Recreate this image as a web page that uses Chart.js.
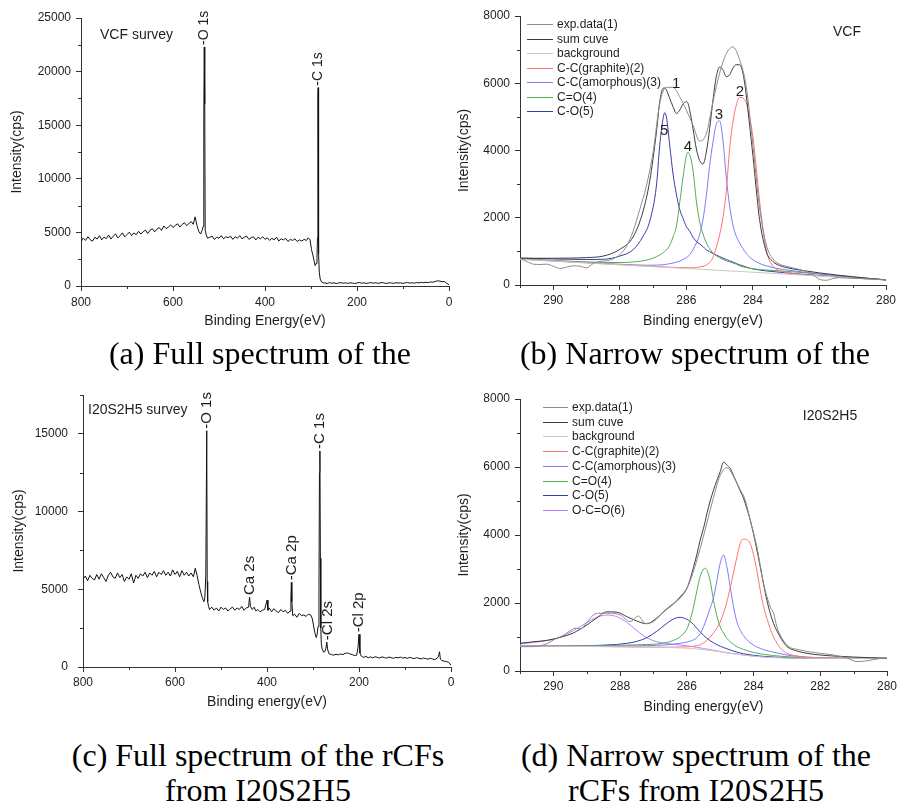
<!DOCTYPE html>
<html>
<head>
<meta charset="utf-8">
<script src="https://cdn.jsdelivr.net/npm/chart.js@4.4.1/dist/chart.umd.min.js"></script>
<style>
  body { margin: 0; background: #fff; width: 898px; height: 809px; position: relative; overflow: hidden; }
  canvas.panel { position: absolute; }
  .cap { position: absolute; width: 400px; text-align: center; white-space: nowrap;
         font-family: 'Liberation Serif', 'Times New Roman', serif; font-size: 32px; line-height: 35px; color: #000; }
</style>
</head>
<body>
<canvas id="chartA" class="panel" width="460" height="340" style="left:0;top:0"></canvas>
<canvas id="chartB" class="panel" width="458" height="340" style="left:440px;top:0"></canvas>
<canvas id="chartC" class="panel" width="460" height="340" style="left:0;top:380px"></canvas>
<canvas id="chartD" class="panel" width="458" height="340" style="left:440px;top:380px"></canvas>
<div class="cap" style="left:60px;top:336px">(a) Full spectrum of the</div>
<div class="cap" style="left:495px;top:336px">(b) Narrow spectrum of the</div>
<div class="cap" style="left:58px;top:738px">(c) Full spectrum of the rCFs<br>from I20S2H5</div>
<div class="cap" style="left:496px;top:738px">(d) Narrow spectrum of the<br>rCFs from I20S2H5</div>
<script>
/* ======== Tick values ======== */
const surveyTicksX = [0, 200, 400, 600, 800];
const surveyTicksYA = [0, 5000, 10000, 15000, 20000, 25000];
const surveyTicksYC = [0, 5000, 10000, 15000];
const narrowTicksX = [280, 282, 284, 286, 288, 290];
const narrowTicksY = [0, 2000, 4000, 6000, 8000];

/* ======== Data: (a) VCF survey ======== */
const surveyAE = [
  800,795,790,785,780,775,770,765,760,755, 750,745,740,735,730,725,720,715,710,705,
  700,695,690,685,680,675,670,665,660,655, 650,645,640,635,630,625,620,615,610,605,
  600,595,590,585,580,575,570,565,560,556, 552,548,544,540,537,534,533,532,531,530,
  528,525,520,515,510,505,500,495,490,485, 480,475,470,465,460,455,450,445,440,435,
  430,425,420,415,410,405,400,395,390,385, 380,375,370,365,360,355,350,345,340,335,
  330,325,320,315,310,306,302,299,296,293, 291,289,287,286,285,284.5,284,283,282,280,
  277,274,270,265,260,255,250,245,240,235, 230,225,220,215,210,205,200,195,190,185,
  180,175,170,165,160,155,150,145,140,135, 130,125,120,115,110,105,100,95,90,85,
  80,75,70,65,60,55,50,45,40,35, 30,25,20,15,10,5,0];
const surveyAI = [
  4150,4480,4250,4600,4320,4180,4550,4380,4700,4300, 4560,4420,4750,4380,4650,4850,4480,4700,4950,4580,
  4800,5020,4700,4950,4780,5100,4850,5050,5220,4900, 5200,5350,5050,5300,5450,5180,5600,5350,5500,5700,
  5450,5650,5800,5500,5750,5900,5620,5850,6000,5750, 6450,5650,5100,4850,5150,5600,16000,22300,17000,5200,
  4800,4450,4550,4650,4350,4550,4450,4700,4400,4600, 4500,4650,4350,4600,4450,4700,4400,4550,4650,4350,
  4500,4600,4300,4550,4400,4600,4350,4500,4250,4450, 4300,4550,4200,4400,4300,4450,4150,4350,4250,4400,
  4150,4300,4200,4350,4250,4500,4300,3400,2900,2300, 1900,2100,2600,4500,17500,18500,16500,3000,1300,650,
  380,300,280,240,310,260,300,230,280,320, 250,290,240,300,270,230,290,320,260,300,
  240,280,320,260,300,250,280,330,270,240, 300,280,250,310,270,290,240,300,330,270,
  300,260,320,290,340,300,350,320,380,350, 420,480,460,400,420,250,120];
const peakNamesA = ['-O 1s', '-C 1s'];
const peakEA = [532, 284.5];
const peakIA = [22300, 18500];

/* ======== Data: (c) I20S2H5 survey ======== */
const surveyCE = [
  800,795,790,785,780,775,770,765,760,755, 750,745,740,735,730,725,720,715,710,705,
  700,695,690,685,680,675,670,665,660,655, 650,645,640,635,630,625,620,615,610,605,
  600,595,590,585,580,575,570,565,560,556, 552,548,544,540,537,535,533,531,530,529,
  527,525,520,515,510,505,500,495,490,485, 480,475,470,465,460,455,450,445,440,438,
  436,432,428,424,420,415,410,405,400,398, 395,390,385,380,375,370,365,360,355,350,
  348,347,346,344,340,335,330,325,320,315, 310,305,302,299,296,293,291,289,287,286,
  285,284,283,282,280,277,274,272,270,268, 265,260,255,250,245,240,235,230,225,220,
  215,210,205,202,200,198,195,190,185,180, 175,170,165,160,155,150,145,140,135,130,
  125,120,115,110,105,100,95,90,85,80, 75,70,65,60,55,50,45,40,35,30,
  27,25,23,20,15,10,5,0];
const surveyCI = [
  5650,5850,5550,5900,5700,5600,5950,5650,6000,5750, 5500,5900,6100,5800,5700,6050,5750,5950,5500,5800,
  5650,6000,5400,5900,5700,6000,5850,6100,5750,6050, 5900,6150,5800,6100,5950,6200,5900,6100,5850,6250,
  5950,6150,5800,6200,5900,6100,5850,6050,5800,6350, 5900,5300,4800,4400,4200,4500,6000,15200,5500,4200,
  3900,3700,3850,3650,3800,3600,3850,3700,3800,3600, 3750,3850,3650,3800,3700,3900,3650,3800,3850,4500,
  3900,3700,3850,3600,3700,3550,3650,3700,4300,3650, 3800,3550,3750,3600,3500,3700,3550,3650,3450,3600,
  4500,5450,4200,3300,3400,3200,3450,3300,3350,3250, 3400,3350,3150,2700,2200,1900,2100,2600,5000,12500,
  13900,7000,2500,1500,1150,950,1000,1200,1600,1100, 850,800,760,820,780,840,800,880,900,850,
  800,740,760,1300,2100,900,700,620,680,600, 650,590,660,620,580,650,610,570,640,600,
  560,620,590,640,570,610,560,620,580,540, 600,560,520,580,540,500,560,520,480,560,
  700,980,500,420,380,350,300,120];
const peakNamesC = ['-O 1s', 'Ca 2s', '-Ca 2p', '-C 1s', '-Cl 2s', '-Cl 2p'];
const peakEC = [531, 438, 347, 285, 268, 200];
const peakIC = [15200, 4500, 5450, 13900, 1600, 2100];

/* ======== Data: (b) VCF C 1s ======== */
const energyB = [291, 290.5, 290, 289.5, 289, 288.5, 288, 287.6, 287.3, 287.1,
  286.9, 286.8, 286.7, 286.65, 286.6, 286.5, 286.4, 286.3, 286.2, 286.1,
  286.0, 285.95, 285.9, 285.8, 285.7, 285.6, 285.5, 285.4, 285.3, 285.2,
  285.1, 285.0, 284.9, 284.8, 284.7, 284.6, 284.5, 284.4, 284.3, 284.2,
  284.1, 284.0, 283.9, 283.8, 283.6, 283.4, 283.2, 283.0, 282.5, 282, 281.5, 281, 280.5, 280];
const sumB = [800, 795, 795, 800, 815, 860, 1060, 1430, 2200, 3100,
  4550, 5450, 5850, 5860, 5800, 5550, 5300, 5100, 5200, 5380,
  5450, 5400, 5200, 4650, 4050, 3700, 3600, 3950, 4650, 5500,
  6200, 6480, 6400, 6200, 6250, 6450, 6550, 6550, 6300, 5650,
  4750, 3850, 2850, 1950, 1000, 700, 580, 520, 430, 360, 300, 245, 195, 150];
const graphiteB = [770, 742, 714, 686, 660, 632, 606, 584, 568, 558,
  548, 543, 538, 536, 534, 530, 526, 522, 519, 516,
  514, 513, 512, 512, 520, 535, 555, 595, 670, 820,
  1120, 1500, 2000, 2800, 4050, 4850, 5350, 5580, 5560, 5420,
  5000, 4400, 3500, 2500, 1050, 560, 430, 375, 310, 275, 243, 212, 182, 152];
const amorphB = [775, 747, 720, 694, 668, 642, 618, 600, 590, 588,
  590, 595, 602, 608, 615, 635, 655, 680, 710, 760,
  810, 850, 900, 1050, 1250, 1500, 1950, 2650, 3550, 4250,
  4780, 4880, 4300, 3200, 2350, 1780, 1450, 1250, 1080, 940,
  830, 750, 690, 640, 570, 520, 480, 450, 385, 330, 280, 235, 195, 155];
const carbonylB = [780, 755, 730, 708, 688, 672, 668, 684, 720, 765,
  840, 890, 960, 1000, 1040, 1180, 1430, 1750, 2450, 3200,
  3850, 3945, 3880, 3400, 2500, 1880, 1520, 1250, 1080, 950,
  870, 810, 760, 720, 685, 655, 620, 570, 540, 520,
  500, 485, 470, 460, 445, 430, 418, 405, 370, 325, 280, 240, 195, 155];
const etherB = [795, 785, 775, 765, 758, 765, 860, 1050, 1450, 1900,
  2950, 4150, 4950, 5125, 5000, 4150, 3300, 2700, 2250, 1980,
  1740, 1670, 1600, 1420, 1300, 1220, 1140, 1045, 990, 940,
  890, 845, 800, 760, 720, 680, 640, 600, 570, 535,
  500, 480, 460, 445, 420, 400, 380, 360, 320, 280, 245, 210, 180, 155];
const expBE = [291, 290.8, 290.6, 290.4, 290.2, 290, 289.8, 289.6, 289.4, 289.2,
  289, 288.8, 288.6, 288.4, 288.2, 288, 287.8, 287.6, 287.4, 287.2,
  287, 286.8, 286.6, 286.4, 286.2, 286, 285.8, 285.6, 285.4, 285.2,
  285, 284.8, 284.6, 284.4, 284.2, 284, 283.8, 283.6, 283.4, 283.2,
  283, 282.8, 282.6, 282.4, 282.2, 282, 281.8, 281.6, 281.4, 281.2, 281, 280.5, 280];
const expBI = [790, 700, 620, 610, 620, 560, 490, 530, 570, 560,
  510, 640, 700, 720, 780, 900, 1150, 1600, 2250, 2950,
  3950, 5400, 5880, 5880, 5600, 5200, 4750, 4280, 4500, 5450,
  6300, 6880, 7080, 6700, 5900, 4150, 2300, 1200, 780, 620,
  560, 510, 460, 400, 300, 170, 140, 190, 220, 210, 200, 180, 150];
const bgBE = [291, 288, 286, 284, 282, 280];
const bgBI = [763, 600, 490, 380, 265, 150];
const peakNumB = ['1', '2', '3', '4', '5'];
const peakNumEB = [286.31, 284.39, 285.02, 285.95, 286.67];
const peakNumIB = [5980, 5740, 5060, 4100, 4580];

/* ======== Data: (d) I20S2H5 C 1s ======== */
const energyD = [291, 290.6, 290.2, 289.8, 289.4, 289, 288.7, 288.4, 288.1, 287.8,
  287.5, 287.2, 286.9, 286.6, 286.4, 286.2, 286.0, 285.9, 285.8, 285.7,
  285.6, 285.5, 285.45, 285.4, 285.3, 285.2, 285.1, 285.0, 284.9, 284.8,
  284.7, 284.6, 284.5, 284.4, 284.3, 284.2, 284.1, 284.0, 283.9, 283.8,
  283.7, 283.6, 283.5, 283.4, 283.2, 283.0, 282.7, 282.4, 282, 281.5, 281, 280.5, 280];
const sumD = [814, 860, 900, 990, 1120, 1350, 1560, 1740, 1730, 1600,
  1470, 1390, 1560, 1820, 1970, 2180, 2430, 2700, 3050, 3420,
  3850, 4200, 4400, 4620, 5000, 5320, 5600, 5860, 6140, 6060,
  5960, 5750, 5520, 5300, 5080, 4780, 4440, 4030, 3560, 3070,
  2550, 2080, 1700, 1400, 1000, 720, 590, 520, 470, 435, 410, 390, 375];
const graphiteD = [735, 733, 731, 729, 727, 725, 722, 718, 714, 710,
  706, 702, 700, 700, 702, 705, 712, 718, 728, 745,
  770, 830, 860, 900, 1000, 1120, 1260, 1440, 1700, 2030,
  2450, 2880, 3350, 3750, 3880, 3860, 3750, 3420, 2950, 2380,
  1900, 1550, 1250, 1000, 680, 520, 440, 405, 385, 376, 372, 371, 370];
const amorphD = [738, 737, 736, 735, 734, 733, 733, 733, 734, 736,
  740, 746, 755, 770, 790, 815, 850, 880, 915, 980,
  1100, 1300, 1420, 1560, 1850, 2150, 2650, 3170, 3412, 3070,
  2480, 1890, 1450, 1200, 1040, 920, 830, 760, 705, 665,
  630, 600, 575, 555, 510, 470, 435, 410, 392, 380, 375, 372, 370];
const carbonylD = [740, 740, 740, 740, 742, 745, 748, 752, 756, 762,
  770, 780, 795, 840, 900, 1010, 1230, 1500, 1880, 2350,
  2780, 3000, 3020, 2980, 2650, 2080, 1620, 1300, 1120, 960,
  860, 780, 716, 670, 635, 600, 570, 545, 525, 508,
  492, 478, 466, 455, 436, 420, 405, 395, 385, 378, 374, 372, 370];
const etherD = [735, 736, 738, 740, 742, 745, 752, 765, 780, 815,
  870, 980, 1170, 1400, 1530, 1578, 1520, 1460, 1370, 1260,
  1150, 1050, 1005, 965, 890, 830, 775, 730, 690, 655,
  620, 585, 555, 530, 508, 490, 475, 462, 450, 440,
  432, 424, 416, 410, 400, 392, 385, 380, 376, 374, 372, 371, 370];
const carboxylD = [795, 840, 895, 990, 1190, 1420, 1580, 1645, 1600, 1430,
  1190, 980, 860, 810, 785, 765, 740, 725, 712, 698,
  680, 662, 653, 645, 628, 610, 590, 570, 553, 537,
  522, 508, 495, 483, 470, 460, 450, 440, 432, 424,
  418, 412, 406, 400, 393, 387, 382, 378, 375, 373, 372, 371, 370];
const expDE = [291, 290.6, 290.2, 290.0, 289.7, 289.5, 289.35, 289.2, 289.0, 288.8,
  288.6, 288.3, 288.0, 287.7, 287.45, 287.25, 287.0, 286.7, 286.4, 286.1,
  285.9, 285.6, 285.4, 285.2, 285.0, 284.8, 284.6, 284.4, 284.25, 284.1,
  283.9, 283.7, 283.5, 283.4, 283.3, 283.0, 282.6, 282.0, 281.6, 281.2,
  280.9, 280.6, 280.2, 280];
const expDI = [716, 716, 800, 912, 1050, 1180, 1260, 1240, 1420, 1650,
  1700, 1700, 1650, 1450, 1620, 1400, 1450, 1750, 1990, 2250,
  2650, 3600, 4350, 5100, 5750, 5980, 5720, 5330, 5030, 4440,
  3650, 2580, 1890, 1700, 1300, 770, 620, 520, 470, 380,
  275, 300, 370, 380];
const bgDE = [291, 290, 289, 288, 287, 286.5, 286, 285.5, 285, 284.5, 284, 283.5, 283, 282, 281, 280];
const bgDI = [735, 728, 720, 712, 700, 690, 670, 630, 565, 495, 435, 398, 382, 374, 372, 370];

/* ======== Style ======== */
const FONT = "'Liberation Sans', Arial, sans-serif";
const INK = '#1e1e1e';
const AXIS = '#333';
const COL = {
  exp: '#8c8c8c', sum: '#3c3c3c', bg: '#c8c8c8',
  graphite: '#ff7272', amorph: '#7a7aff', carbonyl: '#4fae4f', ether: '#3a3aa8', carboxyl: '#c27cff',
  survey: '#111'
};
Chart.defaults.font.family = FONT;
Chart.defaults.color = INK;

/* ======== Plugins ======== */
// short minor ticks between the labelled ones
const minorTicks = {
  id: 'minorTicks',
  afterDraw(chart, args, opts) {
    const { ctx } = chart;
    ctx.save();
    ctx.strokeStyle = AXIS;
    ctx.lineWidth = 1;
    Object.entries(opts.steps || {}).forEach(([id, step]) => {
      const s = chart.scales[id];
      for (let v = Math.ceil(s.min / step) * step; v <= s.max + 1e-9; v += step) {
        if (s.ticks.some(t => Math.abs(t.value - v) < 1e-6)) continue;
        const p = Math.round(s.getPixelForValue(v)) + 0.5;
        ctx.beginPath();
        if (s.isHorizontal()) { ctx.moveTo(p, s.top); ctx.lineTo(p, s.top + 3); }
        else { ctx.moveTo(s.right, p); ctx.lineTo(s.right - 3, p); }
        ctx.stroke();
      }
    });
    ctx.restore();
  }
};

// tag text, rotated peak names, peak numbers and the line legend
const panelText = {
  id: 'panelText',
  afterDatasetsDraw(chart, args, o) {
    const { ctx, chartArea: a, scales: { x, y } } = chart;
    ctx.save();
    ctx.fillStyle = INK;
    if (o.tag) {
      const t = o.tag;
      ctx.font = `14px ${FONT}`;
      ctx.textAlign = t.align;
      ctx.textBaseline = 'middle';
      ctx.fillText(t.text, (t.from === 'right' ? a.right : a.left) + t.dx, a.top + t.dy);
    }
    if (o.peaks) {
      ctx.font = `${o.peaks.size}px ${FONT}`;
      ctx.textAlign = 'left';
      ctx.textBaseline = 'middle';
      o.peaks.names.forEach((name, i) => {
        ctx.save();
        ctx.translate(x.getPixelForValue(o.peaks.e[i]), y.getPixelForValue(o.peaks.v[i]) - 2);
        ctx.rotate(-Math.PI / 2);
        ctx.fillText(name, 0, 0);
        ctx.restore();
      });
    }
    if (o.marks) {
      ctx.font = `15px ${FONT}`;
      ctx.textAlign = 'center';
      ctx.textBaseline = 'middle';
      o.marks.names.forEach((name, i) => {
        ctx.fillText(name, x.getPixelForValue(o.marks.e[i]), y.getPixelForValue(o.marks.v[i]));
      });
    }
    if (o.legend) {
      const L = o.legend;
      ctx.font = `12px ${FONT}`;
      ctx.textAlign = 'left';
      ctx.textBaseline = 'middle';
      chart.data.datasets.forEach((ds, i) => {
        const yy = Math.round(a.top + L.dy + i * L.row) + 0.5;
        ctx.strokeStyle = ds.borderColor;
        ctx.lineWidth = 1;
        ctx.beginPath();
        ctx.moveTo(a.left + L.dx, yy);
        ctx.lineTo(a.left + L.dx + L.len, yy);
        ctx.stroke();
        ctx.fillText(ds.label, a.left + L.dx + L.len + 4, yy);
      });
    }
    ctx.restore();
  }
};

/* ======== Helpers ======== */
const pts = (xs, ys) => xs.map((x, i) => ({ x, y: ys[i] }));
function series(label, color, xs, ys, smooth) {
  return {
    label, data: pts(xs, ys), borderColor: color, borderWidth: 1, pointRadius: 0, fill: false,
    tension: 0, cubicInterpolationMode: smooth ? 'monotone' : 'default'
  };
}

function makePanel(id, datasets, c) {
  return new Chart(document.getElementById(id), {
    type: 'line',
    data: { datasets },
    options: {
      responsive: false,
      animation: false,
      events: [],
      devicePixelRatio: 1,
      layout: { padding: c.pad },
      plugins: {
        legend: { display: false },
        tooltip: { enabled: false },
        minorTicks: { steps: { x: c.xMinor, y: c.yMinor } },
        panelText: c.text
      },
      scales: {
        x: {
          type: 'linear', reverse: true, min: c.xMin, max: c.xMax,
          border: { color: AXIS, width: 1 },
          grid: { drawOnChartArea: false, tickLength: 5, tickColor: AXIS },
          afterBuildTicks: s => { s.ticks = c.xTicks.map(value => ({ value })); },
          ticks: { maxRotation: 0, autoSkip: false, padding: c.xTickPad,
                   font: { size: 12 }, color: INK, callback: v => String(v) },
          title: { display: true, text: c.xTitle, font: { size: 14 }, color: INK,
                   padding: { top: 0, bottom: c.xTitlePad } },
          afterFit: s => { s.height = c.xHeight; s.paddingLeft = 0; s.paddingRight = 0; }
        },
        y: {
          type: 'linear', min: 0, max: c.yMax,
          border: { color: AXIS, width: 1 },
          grid: { drawOnChartArea: false, tickLength: 5, tickColor: AXIS },
          afterBuildTicks: s => { s.ticks = c.yTicks.map(value => ({ value })); },
          ticks: { autoSkip: false, padding: c.yTickPad,
                   font: { size: 12 }, color: INK, callback: v => String(v) },
          title: { display: true, text: 'Intensity(cps)', font: { size: 14 }, color: INK,
                   padding: { top: 4, bottom: 0 } },
          afterFit: s => { s.width = c.yWidth; s.paddingTop = 0; s.paddingBottom = 0; }
        }
      }
    },
    plugins: [minorTicks, panelText]
  });
}

/* ======== (a) ======== */
makePanel('chartA', [series('survey', COL.survey, surveyAE, surveyAI, false)], {
  pad: { left: 5, top: 18, right: 11, bottom: 0 }, yWidth: 76, xHeight: 54,
  xMin: 0, xMax: 800, xTicks: surveyTicksX, xMinor: 100,
  yMax: 25000, yTicks: surveyTicksYA, yMinor: 2500,
  xTickPad: 4, yTickPad: 5, xTitlePad: 10, xTitle: 'Binding Energy(eV)',
  text: {
    tag: { text: 'VCF survey', from: 'left', dx: 19, dy: 17, align: 'left' },
    peaks: { size: 14, names: peakNamesA, e: peakEA, v: peakIA }
  }
});

/* ======== (b) ======== */
makePanel('chartB', [
  series('exp.data(1)', COL.exp, expBE, expBI, true),
  series('sum cuve', COL.sum, energyB, sumB, true),
  series('background', COL.bg, bgBE, bgBI, true),
  series('C-C(graphite)(2)', COL.graphite, energyB, graphiteB, true),
  series('C-C(amorphous)(3)', COL.amorph, energyB, amorphB, true),
  series('C=O(4)', COL.carbonyl, energyB, carbonylB, true),
  series('C-O(5)', COL.ether, energyB, etherB, true)
], {
  pad: { left: 12, top: 16, right: 12, bottom: 0 }, yWidth: 68, xHeight: 55,
  xMin: 280, xMax: 291, xTicks: narrowTicksX, xMinor: 1,
  yMax: 8000, yTicks: narrowTicksY, yMinor: 1000,
  xTickPad: 3, yTickPad: 5, xTitlePad: 10, xTitle: 'Binding energy(eV)',
  text: {
    tag: { text: 'VCF', from: 'right', dx: -39, dy: 16, align: 'center' },
    marks: { names: peakNumB, e: peakNumEB, v: peakNumIB },
    legend: { dx: 7, dy: 8, row: 14.5, len: 26 }
  }
});

/* ======== (c) ======== */
makePanel('chartC', [series('survey', COL.survey, surveyCE, surveyCI, false)], {
  pad: { left: 7, top: 15, right: 9, bottom: 0 }, yWidth: 76, xHeight: 53,
  xMin: 0, xMax: 800, xTicks: surveyTicksX, xMinor: 100,
  yMax: 17500, yTicks: surveyTicksYC, yMinor: 2500,
  xTickPad: 3, yTickPad: 10, xTitlePad: 9, xTitle: 'Binding energy(eV)',
  text: {
    tag: { text: 'I20S2H5 survey', from: 'left', dx: 5, dy: 15, align: 'left' },
    peaks: { size: 15, names: peakNamesC, e: peakEC, v: peakIC }
  }
});

/* ======== (d) ======== */
makePanel('chartD', [
  series('exp.data(1)', COL.exp, expDE, expDI, true),
  series('sum cuve', COL.sum, energyD, sumD, true),
  series('background', COL.bg, bgDE, bgDI, true),
  series('C-C(graphite)(2)', COL.graphite, energyD, graphiteD, true),
  series('C-C(amorphous)(3)', COL.amorph, energyD, amorphD, true),
  series('C=O(4)', COL.carbonyl, energyD, carbonylD, true),
  series('C-O(5)', COL.ether, energyD, etherD, true),
  series('O-C=O(6)', COL.carboxyl, energyD, carboxylD, true)
], {
  pad: { left: 12, top: 19, right: 11, bottom: 0 }, yWidth: 68, xHeight: 49,
  xMin: 280, xMax: 291, xTicks: narrowTicksX, xMinor: 1,
  yMax: 8000, yTicks: narrowTicksY, yMinor: 1000,
  xTickPad: 3, yTickPad: 5, xTitlePad: 4, xTitle: 'Binding energy(eV)',
  text: {
    tag: { text: 'I20S2H5', from: 'right', dx: -57, dy: 17, align: 'center' },
    legend: { dx: 23, dy: 8, row: 14.7, len: 25 }
  }
});
</script>
</body>
</html>
